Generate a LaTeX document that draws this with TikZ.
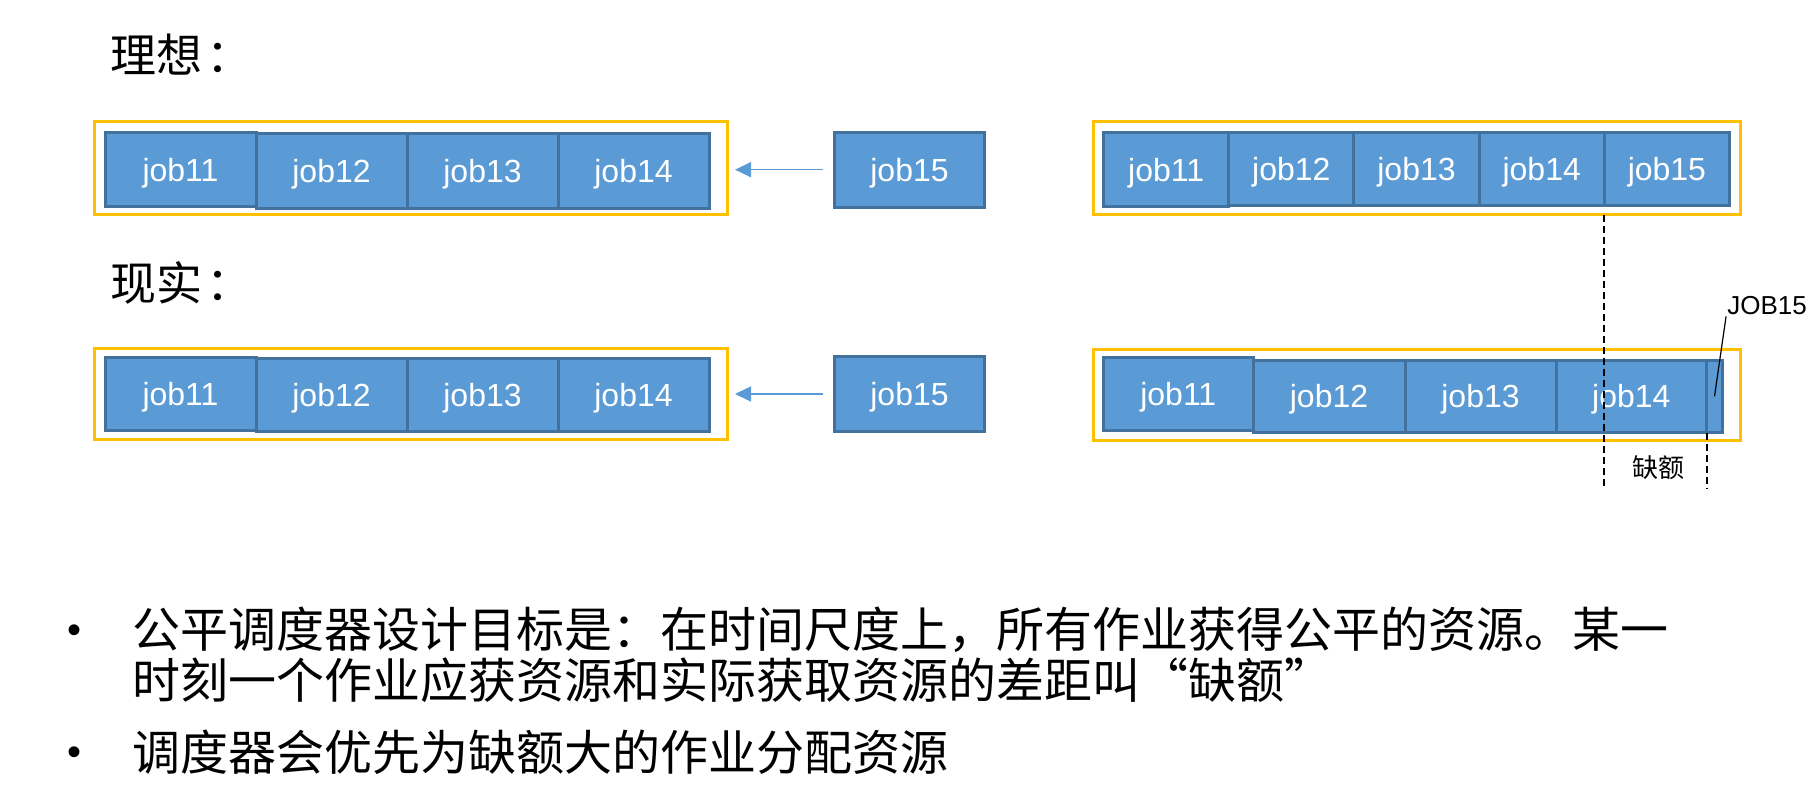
\documentclass[tikz,border=0pt]{standalone}
\usepackage{fontspec}
\setmainfont{Liberation Sans}
\newfontfamily\cjk{Noto Sans CJK SC}
\usetikzlibrary{arrows.meta,calc}
\definecolor{jobfill}{HTML}{5B9BD5}
\definecolor{jobline}{HTML}{41719C}
\definecolor{gold}{HTML}{FFC000}
\begin{document}
\begin{tikzpicture}[x=1pt,y=-1pt,
  jobbox/.style={draw=jobline,fill=jobfill,line width=3pt,text=white,
    font=\fontsize{32}{32}\selectfont,inner sep=0pt,outer sep=0pt,text depth=0pt,
    minimum width=151pt,minimum height=74pt,anchor=center},
  goldframe/.style={draw=gold,line width=3pt,inner sep=0pt,outer sep=0pt},
  arr/.style={draw=jobfill,line width=1.5pt,-{Triangle[length=16pt,width=15pt]},
    shorten <=12pt,shorten >=8pt},
  guide/.style={draw=black,line width=2pt,dash pattern=on 7pt off 4pt},
  cjktitle/.style={anchor=west,inner sep=0pt,font=\cjk\fontsize{46}{46}\selectfont},
  bullettext/.style={anchor=west,inner sep=0pt,font=\cjk\fontsize{48}{48}\selectfont},
  bulletdot/.style={inner sep=0pt,font=\fontsize{40}{40}\selectfont}]
\useasboundingbox (0,0) rectangle (1813,797);

% titles
\node[cjktitle] (t1) at (110,55) {理想\hspace{4pt}：};
\node[cjktitle] (t2) at (110,283) {现实\hspace{4pt}：};

% frames
\node[goldframe,minimum width=633pt,minimum height=92.5pt] (A) at (410.5,168.25) {};
\node[goldframe,minimum width=647.5pt,minimum height=92.5pt] (B) at (1416.75,168.25) {};
\node[goldframe,minimum width=633pt,minimum height=91pt] (C) at (410.5,393.5) {};
\node[goldframe,minimum width=647.5pt,minimum height=91pt] (D) at (1416.75,395) {};

% top left row
\node[jobbox] (a11) at (180.5,169.8) {job11};
\node[jobbox] (a12) at (331.5,171) {job12};
\node[jobbox] (a13) at (482.5,171) {job13};
\node[jobbox] (a14) at (633.5,171) {job14};
\node[jobbox,minimum width=150pt,minimum height=75pt] (j15a) at (909.5,169.7) {job15};

% top right row
\node[jobbox,minimum width=125.2pt] (b11) at (1166.1,169.8) {job11};
\node[jobbox,minimum width=125.2pt,minimum height=72.5pt] (b12) at (1291.3,169) {job12};
\node[jobbox,minimum width=125.2pt,minimum height=72.5pt] (b13) at (1416.5,169) {job13};
\node[jobbox,minimum width=125.2pt,minimum height=72.5pt] (b14) at (1541.7,169) {job14};
\node[jobbox,minimum width=125.2pt,minimum height=72.5pt] (b15) at (1666.9,169) {job15};

% bottom left row
\node[jobbox,minimum height=73pt] (c11) at (180.5,394) {job11};
\node[jobbox,minimum height=73pt] (c12) at (331.5,395.3) {job12};
\node[jobbox,minimum height=73pt] (c13) at (482.5,395.3) {job13};
\node[jobbox,minimum height=73pt] (c14) at (633.5,395.3) {job14};
\node[jobbox,minimum width=150pt,minimum height=75pt] (j15b) at (909.5,394) {job15};

% bottom right row
\node[jobbox,minimum width=149.5pt,minimum height=73.3pt] (d11) at (1178.3,394.2) {job11};
\node[jobbox,minimum width=152pt,minimum height=72.3pt] (d12) at (1329,396.4) {job12};
\node[jobbox,minimum width=151pt,minimum height=72.3pt] (d13) at (1480.5,396.4) {job13};
\node[jobbox,minimum width=150.5pt,minimum height=72.3pt] (d14) at (1631.3,396.4) {job14};
\node[jobbox,minimum width=16pt,minimum height=72.3pt] (d15) at (1714.5,396.4) {};

% arrows
\draw[arr] (j15a.west) -- (j15a.west -| A.east);
\draw[arr] (j15b.west) -- (j15b.west -| C.east);

% dashed guides
\coordinate (q1) at (1604.4,488);
\draw[guide] (b14.south east |- B.south) -- (b14.south east |- q1);
\draw[guide] (d14.south east) -- (d14.south east |- q1);
\node[inner sep=0pt,font=\cjk\fontsize{26}{26}\selectfont] (gap) at (1658.6,468) {缺额};

% JOB15 label
\node[inner sep=1pt,font=\fontsize{26}{26}\selectfont] (lbl) at (1767,306) {JOB15};
\draw[line width=1.2pt] (lbl.south west) -- (d15.center);

% bullets
\node[bulletdot] (bd1) at (75,634) {•};
\node[bullettext] (l1) at (132,630) {公平调度器设计目标是：在时间尺度上，所有作业获得公平的资源。某一};
\node[bullettext] (l2) at (132,680) {时刻一个作业应获资源和实际获取资源的差距叫“缺额”};
\node[bulletdot] (bd2) at (75,756) {•};
\node[bullettext] (l3) at (132,752) {调度器会优先为缺额大的作业分配资源};
\end{tikzpicture}
\end{document}
